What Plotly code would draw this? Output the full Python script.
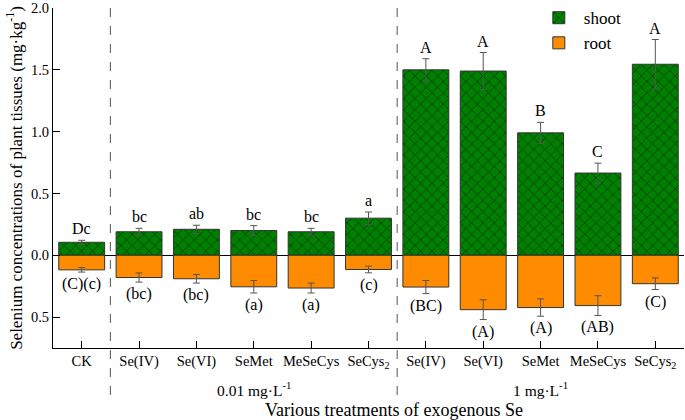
import plotly.graph_objects as go

# ── Data ───────────────────────────────────────────────────────────────────────

categories = ["CK", "Se(IV)", "Se(VI)", "SeMet", "MeSeCys", "SeCys<sub>2</sub>",
              "Se(IV)", "Se(VI)", "SeMet", "MeSeCys", "SeCys<sub>2</sub>"]
shoot = [0.105, 0.19, 0.21, 0.20, 0.19, 0.30, 1.50, 1.49, 0.99, 0.665, 1.545]
shoot_err = [0.016, 0.028, 0.033, 0.04, 0.028, 0.05, 0.09, 0.15, 0.085, 0.08, 0.20]
root = [0.118, 0.18, 0.19, 0.255, 0.265, 0.115, 0.257, 0.44, 0.423, 0.407, 0.23]
root_err = [0.018, 0.037, 0.035, 0.05, 0.04, 0.027, 0.053, 0.08, 0.07, 0.08, 0.047]
shoot_letters = ["Dc", "bc", "ab", "bc", "bc", "a", "A", "A", "B", "C", "A"]
root_letters = ["(C)(c)", "(bc)", "(bc)", "(a)", "(a)", "(c)",
                "(BC)", "(A)", "(A)", "(AB)", "(C)"]
groups = ["0.01 mg·L<sup>-1</sup>", "1 mg·L<sup>-1</sup>"]
group_centers = [3, 8]
dividers = [0.5, 5.5]
y_ticks = [2.0, 1.5, 1.0, 0.5, 0.0, -0.5]

# ── Style ──────────────────────────────────────────────────────────────────────

_SERIF = "Liberation Serif"
_GREEN = "#008000"
_ORANGE = "#FF8C00"
_EDGE = "#333333"
_ERR = "#555555"

x = list(range(len(categories)))

fig = go.Figure()
fig.add_trace(go.Bar(
    x=x, y=shoot, name="shoot", width=0.8,
    marker=dict(color=_GREEN, line=dict(color=_EDGE, width=1),
                pattern=dict(shape="x", fgcolor="#000000", bgcolor=_GREEN,
                             size=8, solidity=0.2)),
    error_y=dict(type="data", array=shoot_err, color=_ERR, thickness=1, width=3.5),
))
fig.add_trace(go.Bar(
    x=x, y=[-v for v in root], name="root", width=0.8,
    marker=dict(color=_ORANGE, line=dict(color=_EDGE, width=1)),
    error_y=dict(type="data", array=root_err, color=_ERR, thickness=1, width=3.5),
))

# significance letters
for i, (v, e, lbl) in enumerate(zip(shoot, shoot_err, shoot_letters)):
    fig.add_annotation(x=i, y=v + e, text=lbl, showarrow=False,
                       yanchor="bottom", yshift=1,
                       font=dict(family=_SERIF, size=16, color="black"))
for i, (v, e, lbl) in enumerate(zip(root, root_err, root_letters)):
    fig.add_annotation(x=i, y=-(v + e), text=lbl, showarrow=False,
                       yanchor="top", yshift=-1,
                       font=dict(family=_SERIF, size=16, color="black"))

# group labels under the axis
for g, c in zip(groups, group_centers):
    fig.add_annotation(x=c, xref="x", y=-0.122, yref="paper", text=g,
                       showarrow=False, yanchor="middle",
                       font=dict(family=_SERIF, size=15.5, color="black"))

fig.add_annotation(x=0.54, xref="paper", y=-0.182, yref="paper",
                   text="Various treatments of exogenous Se", showarrow=False,
                   yanchor="middle", font=dict(family=_SERIF, size=18, color="black"))

for d in dividers:
    fig.add_shape(type="line", x0=d, x1=d, xref="x", y0=1.0, y1=-0.16, yref="paper",
                  line=dict(color="#555555", width=1, dash="dash"))

fig.update_layout(
    width=685, height=420,
    paper_bgcolor="white", plot_bgcolor="white",
    margin=dict(l=53, r=1, t=7, b=72),
    barmode="overlay",
    font=dict(family=_SERIF, size=14, color="black"),
    showlegend=True,
    legend=dict(x=0.762, y=1.02, xanchor="left", yanchor="top",
                font=dict(family=_SERIF, size=17, color="black"),
                bgcolor="rgba(0,0,0,0)", tracegroupgap=0, itemwidth=40),
    xaxis=dict(
        range=[-0.5, 10.5], tickvals=x, ticktext=categories,
        showline=True, linecolor="black", linewidth=1,
        ticks="inside", ticklen=7, tickcolor="black",
        tickfont=dict(family=_SERIF, size=14.5, color="black"),
        showgrid=False, zeroline=False,
    ),
    yaxis=dict(
        range=[-0.75, 2.0], tickvals=y_ticks,
        ticktext=[f"{abs(t):.1f}" for t in y_ticks],
        showline=True, linecolor="black", linewidth=1,
        ticks="inside", ticklen=7, tickcolor="black",
        tickfont=dict(family=_SERIF, size=14.5, color="black"),
        showgrid=False, zeroline=True, zerolinecolor="black", zerolinewidth=1,
        title=dict(text="Selenium concentrations of plant tissues (mg·kg<sup>-1</sup>)",
                   font=dict(family=_SERIF, size=17, color="black"), standoff=4),
    ),
)

# page body has a default margin; drop it so the figure sits at the window corner
fig.write_html("out.html", config={"displayModeBar": False},
               post_script="document.body.style.margin='0';")
